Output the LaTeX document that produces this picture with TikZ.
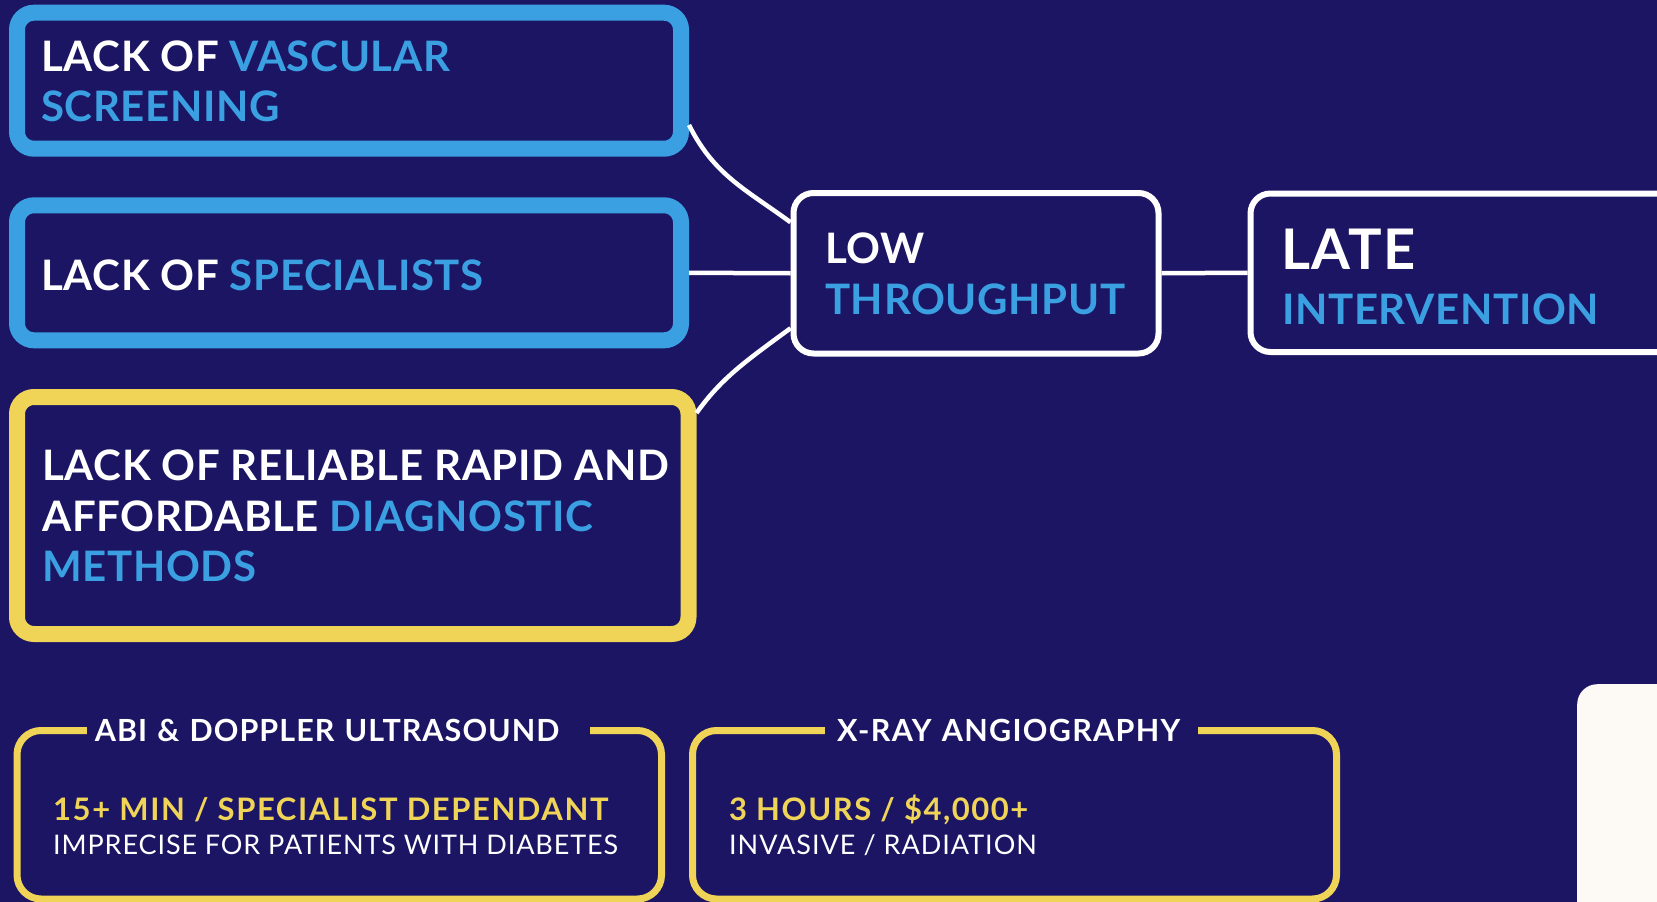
\documentclass[tikz,border=0pt]{standalone}
\usepackage{fontspec}
\setmainfont{Lato}
\usetikzlibrary{calc}
\definecolor{bg}{RGB}{27,21,99}
\definecolor{blueC}{RGB}{59,160,225}
\definecolor{yellowC}{RGB}{239,212,88}
\definecolor{panelC}{RGB}{253,250,246}
\begin{document}
\begin{tikzpicture}[x=1pt,y=-1pt,
  thickbox/.style={draw=#1, line width=16pt, rounded corners=17pt, fill=bg, inner sep=0pt},
  whitebox/.style={draw=white, line width=6pt, rounded corners=20pt, fill=bg, inner sep=0pt},
  infobox/.style={draw=yellowC, line width=7pt, rounded corners=24pt, fill=bg, inner sep=0pt},
  conn/.style={draw=white, line width=4.5pt},
  big/.style={anchor=base west, inner sep=0pt, text=white, font=\bfseries\fontsize{42}{50}\selectfont\addfontfeature{LetterSpace=1.5}},
  title/.style={anchor=base west, fill=bg, inner ysep=4pt, align=left, text=white, font=\bfseries\fontsize{30.5}{36}\selectfont\addfontfeature{LetterSpace=#1}},
  yl/.style={anchor=base west, inner sep=0pt, text=yellowC, font=\bfseries\fontsize{31}{36}\selectfont\addfontfeature{LetterSpace=#1}},
  wl/.style={anchor=base west, inner sep=0pt, text=white, font=\fontsize{27}{32}\selectfont\addfontfeature{LetterSpace=#1}}
]
\fill[bg] (0,0) rectangle (1657,902);
\useasboundingbox (0,0) rectangle (1657,902);
\clip (0,0) rectangle (1657,902);

% main boxes
\node[thickbox=blueC, minimum width=664pt, minimum height=136pt] (b1) at (349,80.7) {};
\node[thickbox=blueC, minimum width=664pt, minimum height=135pt] (b2) at (349,272.8) {};
\node[thickbox=yellowC, minimum width=671.5pt, minimum height=237pt] (b3) at (352.75,515.5) {};
\node[whitebox, minimum width=365pt, minimum height=160.5pt] (low) at (976,273.25) {};
\node[whitebox, minimum width=500pt, minimum height=158.5pt] (late) at (1500.5,272.75) {};

% connectors
\coordinate (c1) at ($(b1.east)+(0,44.3)$);
\coordinate (c2) at ($(low.west)+(0,-51)$);
\coordinate (c3) at ($(b3.east)+(0,-102.5)$);
\coordinate (c4) at ($(low.west)+(0,55)$);
\draw[conn] (c1) .. controls +(25,50) and +(-45,-33) .. (c2);
\draw[conn] (c3) .. controls +(25,-35) and +(-45,33) .. (c4);
\draw[conn] (b2.east) -- (low.west);
\draw[conn] (low.east) -- (late.west);

% texts of main boxes
\node[big] (t1a) at (41,71.7) {LACK OF \textcolor{blueC}{VASCULAR}};
\node[big,text=blueC] (t1b) at (41,121.7) {SCREENING};
\node[big] (t2) at (41,290) {LACK OF \textcolor{blueC}{SPECIALISTS}};
\node[big] (t3a) at (42,480) {LACK OF RELIABLE RAPID AND};
\node[big] (t3b) at (42,531.7) {AFFORDABLE \textcolor{blueC}{DIAGNOSTIC}};
\node[big,text=blueC] (t3c) at (42,581.7) {METHODS};
\node[big] (t4a) at (825,263) {LOW};
\node[big,text=blueC] (t4b) at (825,314) {THROUGHPUT};
\node[big,font=\bfseries\fontsize{56}{60}\selectfont\addfontfeature{LetterSpace=2.5}] (t5a) at (1281,269) {LATE};
\node[big,text=blueC] (t5b) at (1282,324) {INTERVENTION};

% bottom info boxes
\node[infobox, minimum width=644.5pt, minimum height=168.5pt] (abi) at (339.25,814.75) {};
\node[infobox, minimum width=644pt, minimum height=168.5pt] (xray) at (1014.5,814.75) {};
\node[title=3.4, inner xsep=7.6pt, text width=488pt] (abiT) at (87,741.7) {ABI \& DOPPLER ULTRASOUND};
\node[title=4.2, inner xsep=12.5pt, text width=348.5pt] (xrT) at (824.5,741.7) {X-RAY ANGIOGRAPHY};
\node[yl=5.1] (abiY) at (53,820) {15+ MIN / SPECIALIST DEPENDANT};
\node[wl=3.3] (abiW) at (53,854) {IMPRECISE FOR PATIENTS WITH DIABETES};
\node[yl=5] (xrY) at (729,820) {3 HOURS / \$4,000+};
\node[wl=3.7] (xrW) at (729,854) {INVASIVE / RADIATION};

% white panel at bottom right
\node[fill=panelC, rounded corners=20pt, anchor=north west, minimum width=200pt, minimum height=300pt, inner sep=0pt] (panel) at (1577,684) {};
\end{tikzpicture}
\end{document}
